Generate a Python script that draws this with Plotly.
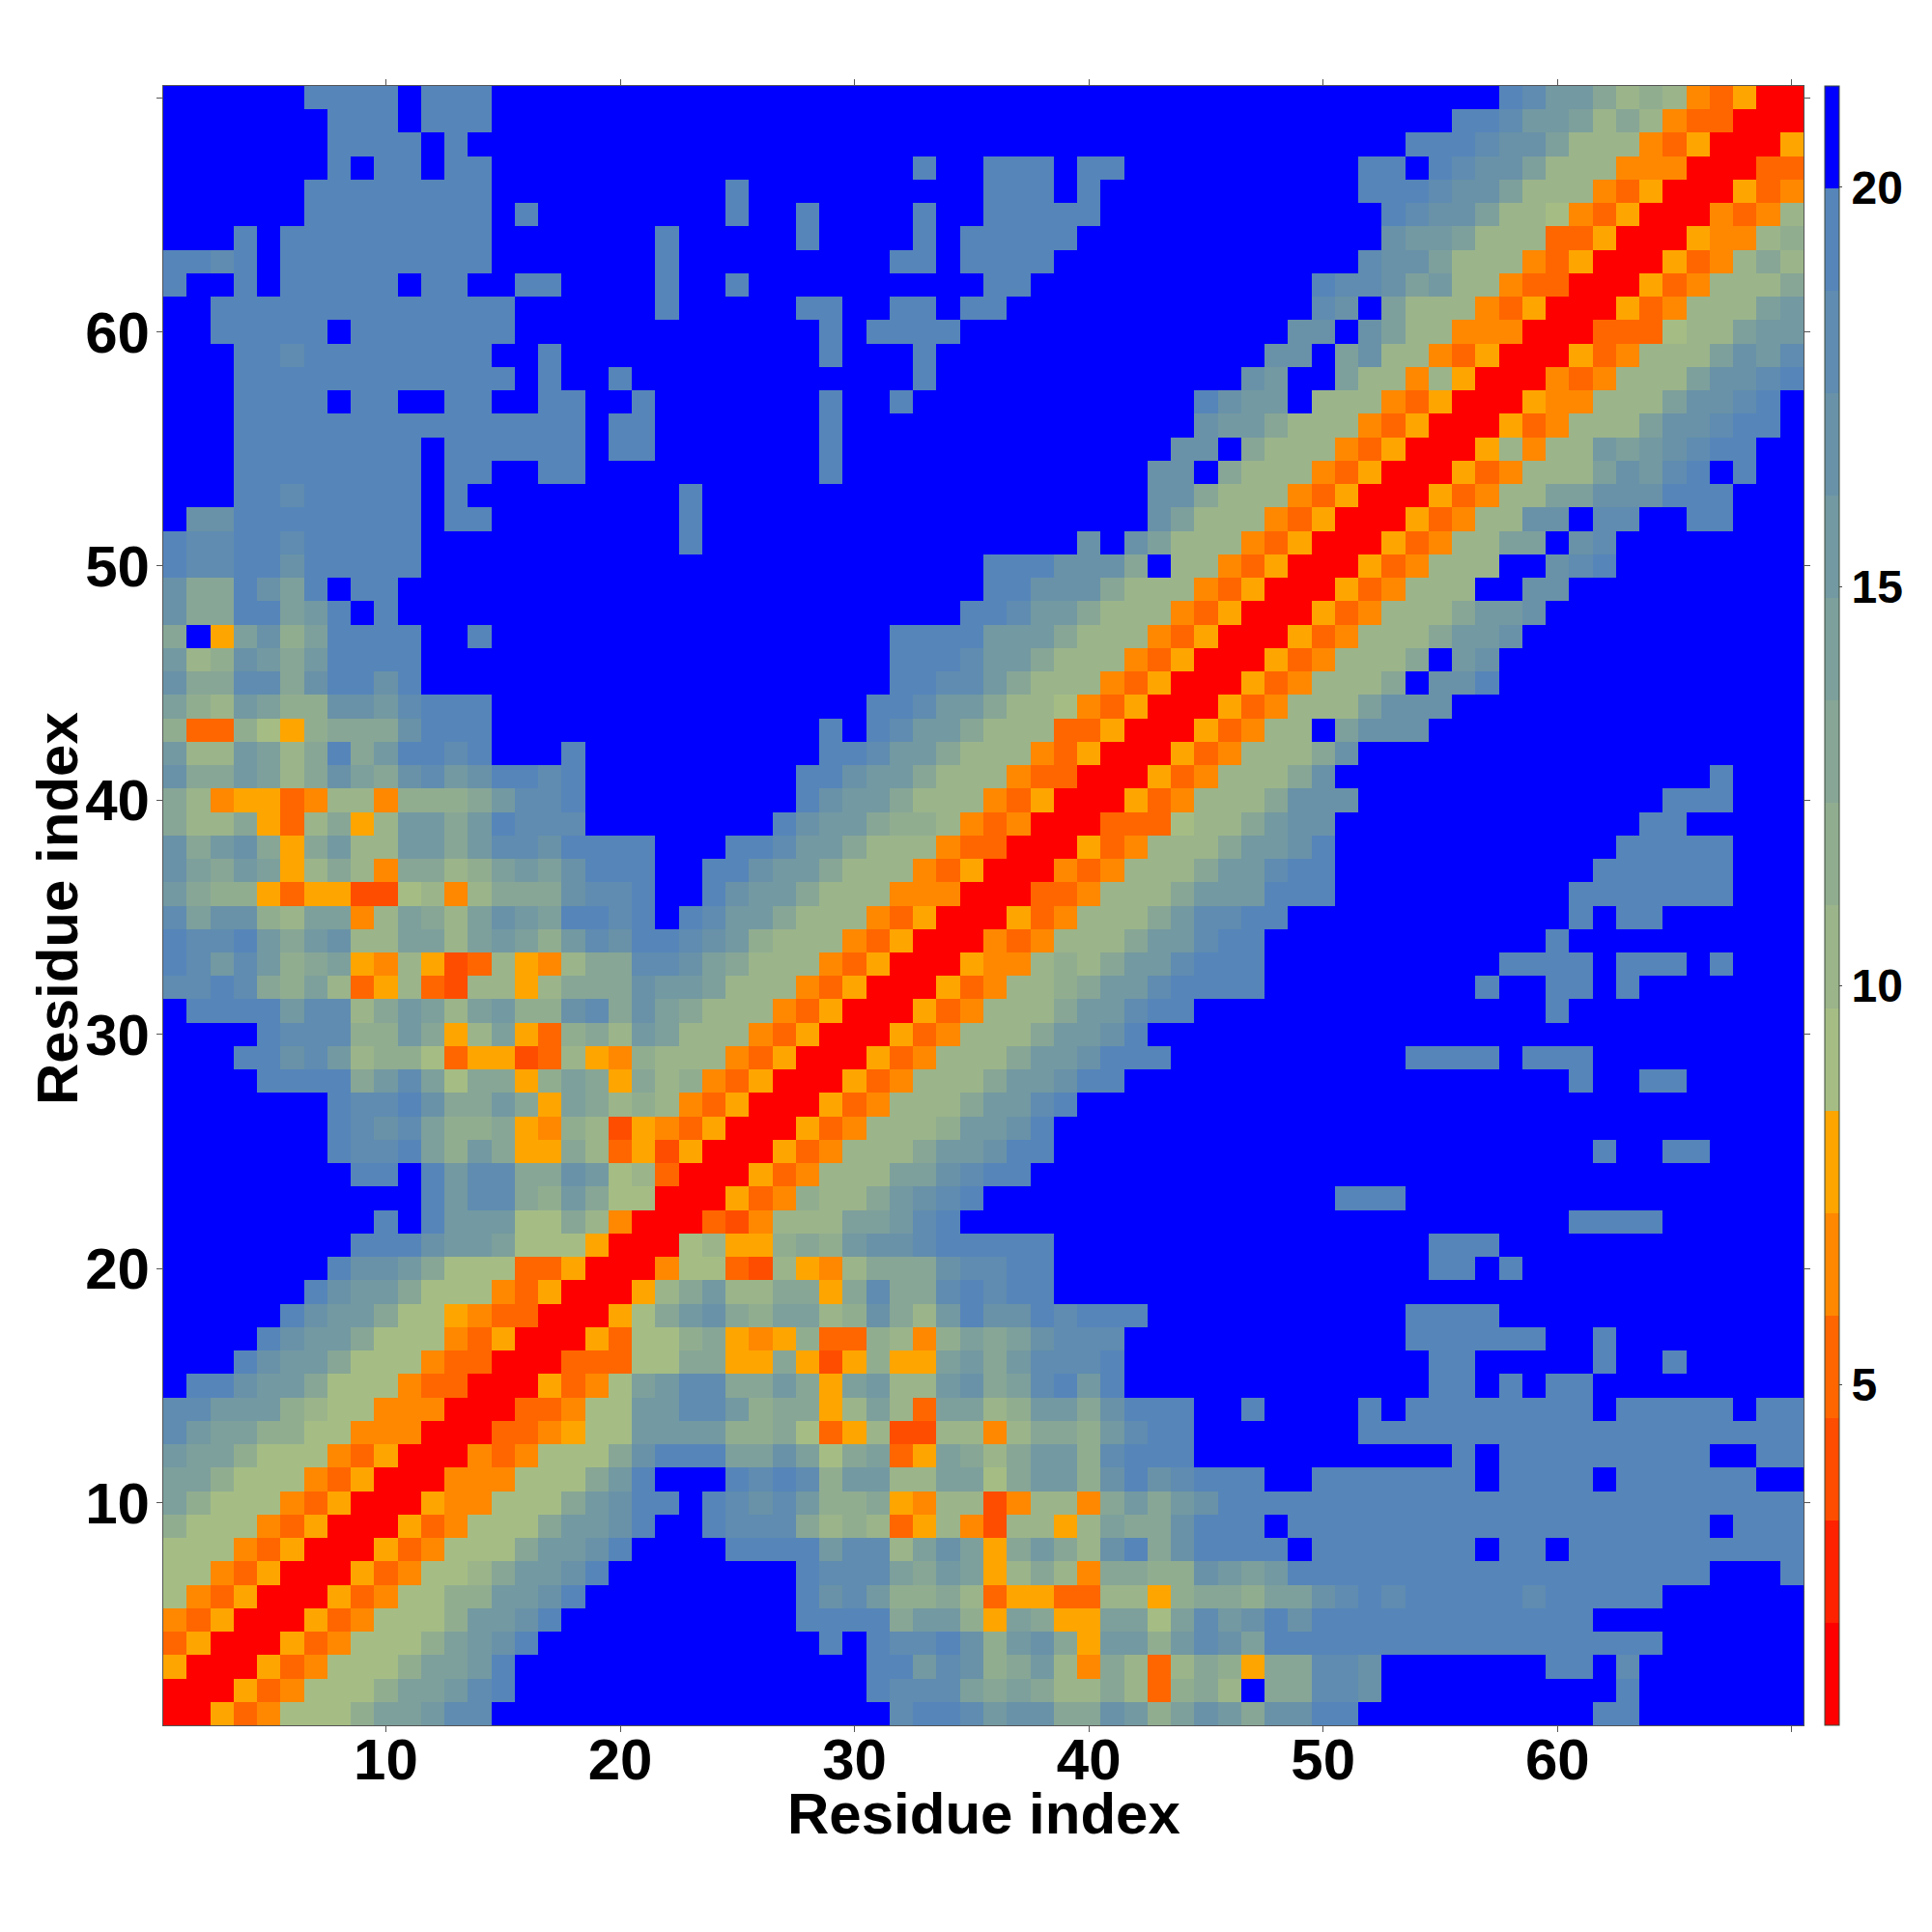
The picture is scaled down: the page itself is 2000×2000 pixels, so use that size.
import plotly.graph_objects as go

# Lower triangle of the symmetric distance map, read row by row from residue 1.
# Token = colour-band index (hex) + optional repeat count.
tri_rows = [
"0","0 0","5 0 0","3 5 0 0","4 3 5 0 0","6 4 3 5 0 0","6 6 4 3 5 0 0","6 6 6 4 3 5 0 0",
"8 6 6 6 4 3 5 0 0","a 8 6 6 6 4 3 5 0 0","a a 8 6 6 6 4 3 5 0 0","b a a 8 6 6 6 4 3 5 0 0",
"d b a a 8 8 6 6 4 4 4 0 0","d d b b b 8 7 6 6 4 4 4 0 0","f e e c b b 9 6 6 6 4 3 3 0 0",
"f3 e c b b 9 6 6 6 4 3 3 0 0","f4 e c b b 9 6 6 6 4 3 5 0 0","f5 e c b b 9 6 6 5 4 3 3 0 0",
"f6 e c b b 9 6 6 6 4 3 5 0 0","f7 e c c b 9 6 6 6 3 3 5 0 0","f8 e e e c b b a 6 6 6 5 0 0",
"f9 e f e b b b 6 6 9 7 4 0 0","f11 e b d d 9 8 b 9 6 6 0 0","f8 e e f e b d d 9 9 c b 6 7 3 0 0",
"f7 e d d e a 8 b 9 5 5 9 7 3 5 2 5 0 0","f7 e d c d a 8 8 9 5 4 8 7 2 5 4 3 5 0 0",
"f7 e d d e c 9 9 b 9 5 a 9 7 8 7 4 3 5 0 0","f4 e4 9 b d a 6 9 9 5 8 a 9 5 9 7 8 4 3 5 0 0",
"f3 e e c d b 7 8 8 6 3 5 5 2 3 7 5 4 8 7 7 7 4 3 5 0 0",
"f4 e d d d 8 8 b 9 5 7 a 5 3 8 9 7 b a 7 7 7 4 3 5 0 0",
"f e4 b d d 7 9 b a 7 a b 8 8 c d 9 c a 9 7 7 7 4 3 5 0 0",
"d d e d 9 8 a 7 3 5 7 3 2 7 7 5 7 9 9 9 c b b a 7 7 7 4 3 5 0 0",
"e d b d b 8 9 a 5 4 7 5 2 3 7 5 4 7 9 9 d d c a 9 7 7 7 4 3 5 0 0",
"e d d e b 9 b c 7 7 a a 7 a b a 8 b d c e e d c b 8 7 7 7 4 3 5 0 0",
"d a c c 8 7 a a 4 7 a 9 7 a c b a e e d e f e d b b 9 7 7 7 4 3 5 0 0",
"b 9 8 8 5 3 5 5 2 2 6 7 4 7 9 9 9 c d d e f f e c b b 9 7 7 7 4 4 4 0 0",
"c a 9 b a 5 7 9 7 4 9 9 7 8 a b a c e e e f f e e c b b 9 7 7 7 4 3 5 0 0",
"c 9 b c 9 5 9 b 7 7 b b 9 b d d c e4 f3 e e d b b 9 7 7 7 4 3 3 0 0",
"9 7 7 9 5 3 7 9 5 7 b b 9 b e d d d f8 e c b b 9 8 8 7 4 3 4 0 0",
"9 7 4 5 5 3 4 7 7 4 8 8 8 9 b d d e f9 e c b b 9 7 7 7 4 3 5 0 0",
"c 9 9 b a 7 9 c a 9 c d b c e e d e f9 e e c b b 9 7 7 7 4 3 3 0 0",
"b 7 7 b a 7 9 e 9 b e e d e f3 e f10 e e d b b 9 7 7 7 4 3 5 0 0",
"8 3 3 8 6 5 8 9 9 9 c e e e f14 e f e d b b 9 7 7 7 3 3 5 0 0",
"a 8 7 b a 8 8 c c b d e e e f16 e e d b b 9 7 7 6 4 3 5 0 0",
"c 9 9 d d 9 c e e c e f20 e e d d b 9 7 7 7 4 3 5 0 0",
"b 7 8 c b 9 b e4 f20 e3 d b b 9 7 7 7 4 3 5 0 0",
"9 f 5 a c 8 a e4 f f e f17 e4 b3 9 7 7 7 4 3 5 0 0",
"c 9 9 e e a b e f e f24 e e d b b 9 7 7 7 4 3 5 0 0",
"c 9 9 e c a e f e e f25 e e c c c 9 7 7 7 4 3 5 0 0",
"e d d e e c e5 f24 e3 c c c 9 f 7 7 4 3 5 0 0",
"e d d e e d e5 f11 e f16 c f c a 7 7 7 4 3 5 0 0",
"f c c e8 f e e f8 e f19 c a 7 7 7 4 3 5 0 0",
"f3 e e d e5 f e f9 e f19 c c 9 7 7 7 4 3 5 0 0",
"f3 e8 f e e f f e e f10 e f13 c c f 9 7 7 7 4 3 5 0 0",
"f3 e8 f e6 f e e f7 e f14 c c f 9 7 7 7 4 3 5 0 0",
"f3 e15 f e e f7 e f15 c b b 9 7 7 7 4 3 5 0 0",
"f3 e4 f e e f f e e f f e e f f e f7 e f f e f12 e c b b f 7 7 7 4 3 5 0 0",
"f3 e12 f e f f e f12 e f13 c b f f a 7 7 4 7 5 0 0",
"f3 e e d e8 f f e f11 e f3 e f14 c c f a c 7 7 4 3 5 0 0",
"f f e5 f e7 f13 e f e4 f14 c c f c a 7 7 4 4 4 0 0",
"f f e13 f6 e f5 e e f f e e f e e f13 d c f a 7 7 7 4 3 5 0 0",
"e f f e f e5 f e e f f e e f4 e f f e f10 e e f12 e d d c a b 7 7 4 3 3 0 0",
"e e d e f e9 f7 e f9 e e f e4 f13 d c c a 7 7 7 4 3 5 0 0",
"f3 e f e9 f7 e f5 e f4 e f e5 f13 c b b a 7 7 7 3 3 5 0 0",
"f6 e8 f e f8 e f f e f4 e f f e5 f12 e d c c a 7 7 6 4 3 5 0 0",
"f6 e8 f10 e f10 e3 f e f11 e3 d c c a 7 7 7 4 3 5 0 0",
"f7 e f e e f e e f18 e f f e3 f e e f10 e e f e d c c a 7 7 7 4 4 4 0 0",
"f7 e4 f e f40 e3 d c c a 7 7 7 4 3 5 0 0",
"f7 e3 f e3 f41 e e d b b a 7 9 7 4 3 3 0 0",
"f6 e4 f e3 f43 e d b b 9 7 8 7 4 3 5 0 0",
]

residues = list(range(1, 71))
band_colors = ["#ff0000", "#ff2200", "#ff4d00", "#ff6600", "#ff8800", "#ffa500",
               "#a5bd84", "#9bb48a", "#91ad90", "#87a696", "#7da09c",
               "#7399a2", "#6992a8", "#5f8cb0", "#5685ba", "#0000ff"]
z_low, z_high = 0.73, 21.27
axis_ticks = [10, 20, 30, 40, 50, 60, 70]
axis_labels = ["10", "20", "30", "40", "50", "60", ""]
bar_ticks = [5, 10, 15, 20]
axis_title = "Residue index"

band_width = (z_high - z_low) / len(band_colors)
band_centres = [z_low + (k + 0.5) * band_width for k in range(len(band_colors))]


def expand(row):
    cells = []
    for token in row.split():
        cells += [int(token[0], 16)] * int(token[1:] or 1)
    return cells


tri = [expand(r) for r in tri_rows]
for i, cells in enumerate(tri):
    assert len(cells) == i + 1, (i + 1, len(cells))

z = [[band_centres[tri[max(i, j)][min(i, j)]] for j in range(70)] for i in range(70)]

scale = []
for k, colour in enumerate(band_colors):
    scale += [[k / len(band_colors), colour], [(k + 1) / len(band_colors), colour]]

fig = go.Figure(go.Heatmap(
    x=residues, y=residues, z=z, zmin=z_low, zmax=z_high, colorscale=scale,
    colorbar=dict(
        x=1.0131, xanchor="left", xpad=0, y=0.5, yanchor="middle", ypad=0,
        len=1, lenmode="fraction", thickness=15, thicknessmode="pixels",
        outlinecolor="#3a4a3a", outlinewidth=1, ticks="outside", ticklen=3,
        tickwidth=1, tickcolor="#444444", tickvals=bar_ticks,
        tickfont=dict(family="Liberation Sans", size=48, color="black", weight="bold"),
    ),
))
axis = dict(
    range=[0.5, 70.5], tickmode="array", tickvals=axis_ticks, ticktext=axis_labels,
    ticks="outside", ticklen=6, tickwidth=1, tickcolor="#555555",
    showline=True, linecolor="#555555", linewidth=1, mirror="ticks",
    showgrid=False, zeroline=False,
    tickfont=dict(family="Liberation Sans", size=60, color="black", weight="bold"),
)
title_font = dict(family="Liberation Sans", size=60, color="black", weight="bold")
fig.update_layout(
    width=1992, height=1992, paper_bgcolor="white", plot_bgcolor="white",
    margin=dict(l=161, r=133, t=81, b=214, autoexpand=False),
    xaxis=dict(axis, ticklabelstandoff=-23),
    yaxis=dict(axis, ticklabelstandoff=-5),
    annotations=[
        dict(text=axis_title, xref="paper", yref="paper", x=0.5, y=-0.054,
             xanchor="center", yanchor="middle", showarrow=False, font=title_font),
        dict(text=axis_title, xref="paper", yref="paper", x=-0.0648, y=0.4985,
             xanchor="center", yanchor="middle", showarrow=False, textangle=-90, font=title_font),
    ],
)
fig.write_html("out.html")
